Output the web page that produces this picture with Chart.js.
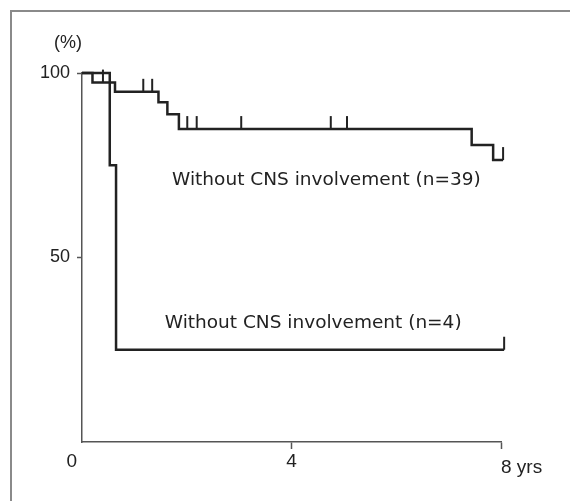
<!DOCTYPE html>
<html>
<head>
<meta charset="utf-8">
<script src="https://cdn.jsdelivr.net/npm/chart.js@4/dist/chart.umd.min.js"></script>
<style>
  html, body { margin: 0; padding: 0; background: #fff; }
  #wrap { position: relative; width: 570px; height: 501px; }
  #frame { position: absolute; left: 10px; top: 10px; right: -2px; bottom: -2px;
           border-left: 2px solid #8a8a8a; border-top: 2px solid #8a8a8a; }
  canvas { position: absolute; left: 0; top: 0; }
</style>
</head>
<body>
<div id="wrap">
  <div id="frame"></div>
  <canvas id="chartCanvas" width="570" height="501"></canvas>
</div>
<script>
// Kaplan-Meier steps (years, % surviving)
const groupA_time = [0, 0.2, 0.63, 1.46, 1.63, 1.85, 7.44, 7.85, 8.04];
const groupA_surv = [100, 97.4, 94.9, 92.1, 88.8, 84.8, 80.5, 76.4, 76.4];
const groupA_censor = [0.4, 1.17, 1.34, 2.01, 2.19, 3.04, 4.75, 5.06, 8.04];

const groupB_time = [0, 0.53, 0.65, 8.06];
const groupB_surv = [100, 75, 25, 25];
const groupB_censor = [8.06];

const curveLabels = ['Without CNS involvement (n=39)', 'Without CNS involvement (n=4)'];
const xTicks = [0, 4, 8];
const xTickLabels = ['0', '4', '8 yrs'];
const yTicks = [50, 100];

const INK = '#222';
const AXIS = '#555';

function toPoints(times, surv) {
    return times.map((t, i) => ({ x: t, y: surv[i] }));
}

// survival level at time t for a step curve
function levelAt(times, surv, t) {
    let s = surv[0];
    for (let i = 0; i < times.length; i++) {
        if (times[i] <= t) s = surv[i];
    }
    return s;
}

const curves = [
    { times: groupA_time, surv: groupA_surv, censor: groupA_censor, label: curveLabels[0], anchor: [1.72, 69.6] },
    { times: groupB_time, surv: groupB_surv, censor: groupB_censor, label: curveLabels[1], anchor: [1.58, 30.9] }
];

// censor ticks, curve labels, x tick labels and the (%) mark
const extras = {
    id: 'extras',
    afterDatasetsDraw(chart) {
        const c = chart.ctx;
        const xs = chart.scales.x, ys = chart.scales.y;
        c.save();
        c.strokeStyle = INK;
        c.lineWidth = 2;
        curves.forEach(cv => {
            cv.censor.forEach(t => {
                const px = xs.getPixelForValue(t);
                const py = ys.getPixelForValue(levelAt(cv.times, cv.surv, t));
                c.beginPath();
                c.moveTo(px, py);
                c.lineTo(px, py - 13);
                c.stroke();
            });
        });
        c.fillStyle = INK;
        c.font = '18.5px "DejaVu Sans"';
        c.textAlign = 'left';
        c.textBaseline = 'alphabetic';
        curves.forEach(cv => {
            c.fillText(cv.label, xs.getPixelForValue(cv.anchor[0]), ys.getPixelForValue(cv.anchor[1]));
        });

        c.font = '19px "Liberation Sans"';
        c.textBaseline = 'middle';
        xTicks.forEach((v, i) => {
            const px = xs.getPixelForValue(v);
            if (i === 0) { c.textAlign = 'right'; c.fillText(xTickLabels[i], px - 5, 462); }
            else if (i === xTicks.length - 1) { c.textAlign = 'left'; c.fillText(xTickLabels[i], px, 468); }
            else { c.textAlign = 'center'; c.fillText(xTickLabels[i], px, 462); }
        });
        c.font = '18px "Liberation Sans"';
        c.textAlign = 'center';
        c.fillText('(%)', 68, 43);
        c.restore();
    }
};

const ctx = document.getElementById('chartCanvas').getContext('2d');

let chart = new Chart(ctx, {
    type: 'line',
    data: {
        datasets: curves.map(cv => ({
            data: toPoints(cv.times, cv.surv),
            stepped: 'before',
            borderColor: INK,
            borderWidth: 2.5,
            pointRadius: 0,
            fill: false,
            clip: false
        }))
    },
    options: {
        responsive: false,
        animation: false,
        layout: { padding: { left: 0, top: 73, right: 69, bottom: 0 } },
        plugins: { legend: { display: false }, tooltip: { enabled: false } },
        scales: {
            x: {
                type: 'linear',
                min: 0,
                max: 8,
                afterBuildTicks: scale => { scale.ticks = xTicks.map(v => ({ value: v })); },
                afterFit: scale => { scale.height = 59; },
                border: { display: true, color: AXIS, width: 1.5 },
                grid: {
                    drawOnChartArea: false,
                    tickLength: 7,
                    tickWidth: 1.5,
                    color: c => (c.tick && c.tick.value === 0 ? 'rgba(0,0,0,0)' : AXIS)
                },
                ticks: { display: false }
            },
            y: {
                min: 0,
                max: 100,
                afterBuildTicks: scale => { scale.ticks = [0].concat(yTicks).map(v => ({ value: v })); },
                afterFit: scale => { scale.width = 82; },
                border: { display: true, color: AXIS, width: 1.5 },
                grid: {
                    drawOnChartArea: false,
                    tickLength: 5,
                    tickWidth: 1.5,
                    color: c => (c.tick && c.tick.value === 0 ? 'rgba(0,0,0,0)' : AXIS)
                },
                ticks: {
                    padding: 7,
                    color: INK,
                    font: { family: 'Liberation Sans', size: 18 },
                    callback: v => (v === 0 ? '' : String(v))
                }
            }
        }
    },
    plugins: [extras]
});
</script>
</body>
</html>
